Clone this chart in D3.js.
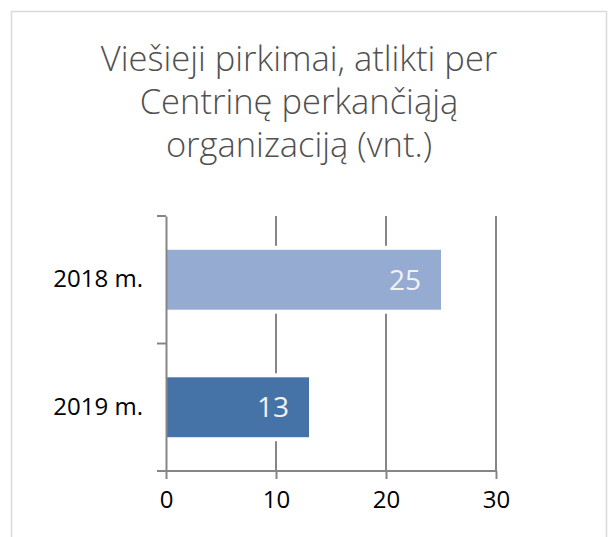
<!DOCTYPE html>
<html>
<head>
<meta charset="utf-8">
<script src="https://cdn.jsdelivr.net/npm/d3@7"></script>
<style>
  body { margin: 0; background: #fff; }
  svg { display: block; }
</style>
</head>
<body>
<div id="chart"></div>
<script>
// chart data
const categories = ['2018 m.', '2019 m.'];
const values = [25, 13];
const barColors = ['#95abd1', '#4673a7'];
const xTicks = [0, 10, 20, 30];
const titleLines = ['Viešieji pirkimai, atlikti per', 'Centrinę perkančiąją', 'organizaciją (vnt.)'];

const W = 608, H = 537;
const plot = { left: 166, right: 496, top: 216, bottom: 471 };
const font = "'Open Sans', 'Liberation Sans', sans-serif";

let svg = d3.select('#chart').append('svg')
    .attr('width', W)
    .attr('height', H);

// outer chart border
svg.append('rect')
    .attr('x', 11.5).attr('y', 11.5)
    .attr('width', 595).attr('height', 540)
    .attr('fill', '#fff')
    .attr('stroke', '#d9d9d9')
    .attr('stroke-width', 1.5);

// title
svg.append('text')
    .attr('x', 299)
    .attr('font-family', font)
    .attr('font-weight', 300)
    .attr('font-size', 34.5)
    .attr('fill', '#505050')
    .attr('text-anchor', 'middle')
    .selectAll('tspan')
    .data(titleLines)
    .join('tspan')
    .attr('x', 299)
    .attr('y', (d, i) => 71 + i * 43)
    .text(d => d);

// scales
let x = d3.scaleLinear()
    .domain([0, 30])
    .range([plot.left, plot.right]);

let y = d3.scaleBand()
    .domain(categories)
    .range([plot.top, plot.bottom]);

const barH = y.bandwidth() * 0.47;

// vertical gridlines
svg.append('g')
    .selectAll('line')
    .data(xTicks.slice(1))
    .join('line')
    .attr('x1', d => x(d)).attr('x2', d => x(d))
    .attr('y1', plot.top).attr('y2', plot.bottom)
    .attr('stroke', '#868686')
    .attr('stroke-width', 2);

// white halo round the bars (breaks the gridlines like the original)
svg.append('g')
    .selectAll('rect')
    .data(categories)
    .join('rect')
    .attr('x', x(0))
    .attr('y', d => y(d) + (y.bandwidth() - barH) / 2 - 4)
    .attr('width', (d, i) => x(values[i]) - x(0) + 4)
    .attr('height', barH + 8)
    .attr('fill', '#fff');

// bars
svg.append('g')
    .selectAll('rect')
    .data(categories)
    .join('rect')
    .attr('x', x(0) + 1)
    .attr('y', d => y(d) + (y.bandwidth() - barH) / 2)
    .attr('width', (d, i) => x(values[i]) - x(0) - 1)
    .attr('height', barH)
    .attr('fill', (d, i) => barColors[i]);

// value labels inside the bars
svg.append('g')
    .selectAll('text')
    .data(categories)
    .join('text')
    .attr('x', (d, i) => x(values[i]) - 36)
    .attr('y', d => y(d) + y.bandwidth() / 2 + 10)
    .attr('text-anchor', 'middle')
    .attr('font-family', font)
    .attr('font-size', 28)
    .attr('fill', '#f2f2f2')
    .text((d, i) => values[i]);

// x axis
let axisX = svg.append('g')
    .attr('transform', `translate(0, ${plot.bottom})`)
    .call(d3.axisBottom(x)
        .tickValues(xTicks)
        .tickSize(8)
        .tickSizeOuter(0)
        .tickPadding(12));

// y axis (labels only, boundary ticks drawn separately)
let axisY = svg.append('g')
    .attr('transform', `translate(${plot.left}, 0)`)
    .call(d3.axisLeft(y)
        .tickSize(0)
        .tickSizeOuter(0)
        .tickPadding(23));

// category boundary ticks
svg.append('g')
    .selectAll('line')
    .data(d3.range(categories.length + 1))
    .join('line')
    .attr('x1', plot.left - 9).attr('x2', plot.left)
    .attr('y1', i => plot.top + i * y.step())
    .attr('y2', i => plot.top + i * y.step())
    .attr('stroke', '#868686')
    .attr('stroke-width', 2);

// style the axes
function styleAxis(axis, size) {
    axis.select('.domain')
        .attr('stroke', '#868686')
        .attr('stroke-width', 2);
    axis.selectAll('line')
        .attr('stroke', '#868686')
        .attr('stroke-width', 2);
    axis.selectAll('text')
        .attr('font-family', font)
        .attr('font-size', size)
        .attr('fill', '#000');
}
styleAxis(axisX, 24);
styleAxis(axisY, 24);

// extend the x axis line a bit to the left like the original
axisX.select('.domain')
    .attr('d', `M${plot.left - 9},0H${plot.right}`);
</script>
</body>
</html>
